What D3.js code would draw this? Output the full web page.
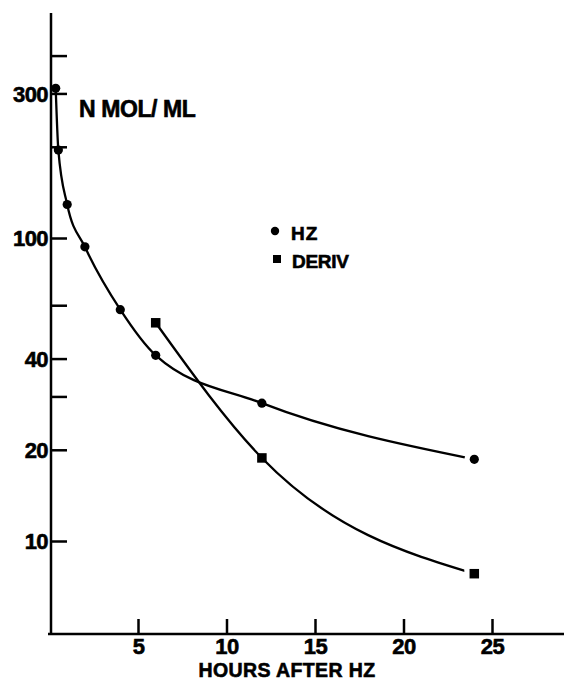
<!DOCTYPE html>
<html>
<head>
<meta charset="utf-8">
<script src="https://cdn.jsdelivr.net/npm/d3@7"></script>
<style>
  html, body { margin: 0; padding: 0; background: #fff; }
  svg { display: block; }
  text { font-family: "Liberation Sans", Arial, sans-serif; font-weight: bold; fill: #000; stroke: #000; stroke-width: 0.6px; }
</style>
</head>
<body>
<svg id="chart" width="564" height="680"></svg>
<script>
// ---- data ----
const hzHours   = [0.35, 0.5, 1, 2, 4, 6, 12, 24];
const hzValues  = [312, 195, 129, 93.5, 58, 41, 28.5, 18.6];
const derivHours  = [6, 12, 24];
const derivValues = [52.5, 18.8, 7.8];
const xTickValues = [5, 10, 15, 20, 25];
const yTickValues = [10, 20, 30, 40, 60, 100, 200, 300, 400];
const yTickLabels = [10, 20, 40, 100, 300];
const legendNames = ["HZ", "DERIV"];
const yAxisTitle = "N MOL/ ML";
const xAxisTitle = "HOURS AFTER HZ";

const svg = d3.select("#chart");

const x = d3.scaleLinear().domain([0, 29]).range([49.5, 49.5 + 29 * 17.7]);
const y = d3.scaleLog().domain([10, 100]).range([541, 238]);

// axis lines
svg.append("line").attr("x1", 51).attr("x2", 51)
  .attr("y1", 13).attr("y2", y(5) + 2)
  .attr("stroke", "#000").attr("stroke-width", 2.5);
svg.append("line").attr("x1", 48).attr("x2", 564)
  .attr("y1", 634).attr("y2", 634)
  .attr("stroke", "#000").attr("stroke-width", 2.5);

// y axis ticks (inside) with labels on the left
const yAxis = d3.axisLeft(y)
  .tickValues(yTickValues)
  .tickSizeInner(-16).tickSizeOuter(0).tickPadding(3)
  .tickFormat(d => yTickLabels.includes(d) ? String(d) : "");
const gy = svg.append("g").attr("transform", "translate(51,0)").call(yAxis);
gy.select(".domain").remove();
gy.selectAll(".tick line").attr("stroke", "#000").attr("stroke-width", 2.5);
gy.selectAll(".tick text").attr("font-size", 22).attr("font-family", null)
  .attr("letter-spacing", -0.6).attr("dy", "0.36em");

// x axis ticks (inside, upward) with labels below
const xAxis = d3.axisBottom(x)
  .tickValues(xTickValues)
  .tickSizeInner(-15).tickSizeOuter(0).tickPadding(4)
  .tickFormat(d3.format("d"));
const gx = svg.append("g").attr("transform", "translate(0,634)").call(xAxis);
gx.select(".domain").remove();
gx.selectAll(".tick line").attr("stroke", "#000").attr("stroke-width", 2.5);
gx.selectAll(".tick text").attr("font-size", 22).attr("font-family", null)
  .attr("letter-spacing", -0.6);

// axis titles
svg.append("text").attr("x", 79).attr("y", 117)
  .attr("font-size", 23).attr("letter-spacing", -0.4)
  .text(yAxisTitle);
svg.append("text").attr("x", 287).attr("y", 677)
  .attr("text-anchor", "middle").attr("font-size", 19.5)
  .attr("letter-spacing", 0.4)
  .text(xAxisTitle);

// curves
const line = d3.line()
  .x(d => x(d[0])).y(d => y(d[1]))
  .curve(d3.curveMonotoneX);
const hzData = hzHours.map((h, i) => [h, hzValues[i]]);
const derivData = derivHours.map((h, i) => [h, derivValues[i]]);

svg.append("path").datum(hzData).attr("d", line)
  .attr("fill", "none").attr("stroke", "#000").attr("stroke-width", 2.3);
svg.append("path").datum(derivData).attr("d", line)
  .attr("fill", "none").attr("stroke", "#000").attr("stroke-width", 2.3);

// white halos break the curve just before the last points
const lastHz = hzData[hzData.length - 1];
const lastDv = derivData[derivData.length - 1];
svg.append("circle").attr("cx", x(lastHz[0])).attr("cy", y(lastHz[1])).attr("r", 10).attr("fill", "#fff");
svg.append("rect").attr("x", x(lastDv[0]) - 10).attr("y", y(lastDv[1]) - 10)
  .attr("width", 20).attr("height", 20).attr("fill", "#fff");

// markers
svg.selectAll("circle.hz").data(hzData).enter().append("circle")
  .attr("class", "hz")
  .attr("cx", d => x(d[0])).attr("cy", d => y(d[1])).attr("r", 4.6)
  .attr("fill", "#000");
const sq = 9.5;
svg.selectAll("rect.dv").data(derivData).enter().append("rect")
  .attr("class", "dv")
  .attr("x", d => x(d[0]) - sq / 2).attr("y", d => y(d[1]) - sq / 2)
  .attr("width", sq).attr("height", sq).attr("fill", "#000");

// legend
const legend = svg.append("g");
legend.append("circle").attr("cx", 275).attr("cy", 231).attr("r", 4.2).attr("fill", "#000");
legend.append("text").attr("x", 291).attr("y", 240).attr("font-size", 19)
  .attr("letter-spacing", 1).text(legendNames[0]);
legend.append("rect").attr("x", 273).attr("y", 255).attr("width", 8).attr("height", 8).attr("fill", "#000");
legend.append("text").attr("x", 292).attr("y", 268).attr("font-size", 19)
  .attr("letter-spacing", -0.3).text(legendNames[1]);
</script>
</body>
</html>
